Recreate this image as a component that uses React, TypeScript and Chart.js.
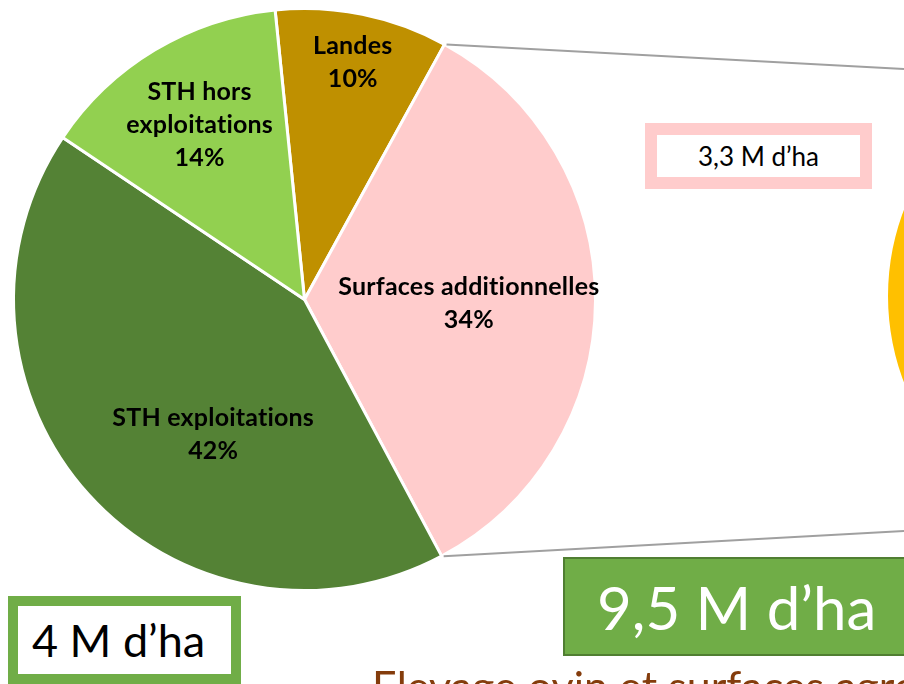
import React, { useEffect, useRef } from "react";
import { Chart, registerables } from "chart.js";

Chart.register(...registerables);

// ---- data ----
const categories = ["Landes", "Surfaces additionnelles", "STH exploitations", "STH hors exploitations"];
const labelLines = [["Landes"], ["Surfaces additionnelles"], ["STH exploitations"], ["STH hors", "exploitations"]];
const shares = [9.6, 34.2, 42.2, 14.0];
const sliceColors = ["#BF9000", "#FFCCCC", "#548235", "#92D050"];
const detailCategories = ["Surfaces additionnelles (détail)"];
const detailShares = [100];
const detailColors = ["#FFC000"];
const totalMainText = "4 M d\u2019ha";
const detailText = "3,3 M d\u2019ha";
const totalDetailText = "9,5 M d\u2019ha";
const titleText = "Elevage ovin et surfaces agropastorales";

// ---- placement (style) ----
const labelRadius = [0.833, 0.565, 0.559, 0.7];
const labelAngleShift = [0, 1, -13.7, 0];
const connectorSlice = 1;
const connectorTargets = [
  { x: 904, y: 69 },
  { x: 904, y: 531 },
];

const FONT = "Lato, 'Open Sans', sans-serif";

const labelPlugin = {
  id: "sliceLabels",
  afterDatasetsDraw(chart: any) {
    const ctx = chart.ctx;
    const meta = chart.getDatasetMeta(0);
    const data = chart.data.datasets[0].data as number[];
    const total = data.reduce((a, b) => a + b, 0);
    ctx.save();
    ctx.font = `bold 25px ${FONT}`;
    try {
      (ctx as any).letterSpacing = "0.2px";
    } catch (e) {}
    ctx.fillStyle = "#000000";
    ctx.textAlign = "center";
    ctx.textBaseline = "middle";
    const lineH = 33;
    meta.data.forEach((arc: any, i: number) => {
      const { x, y, startAngle, endAngle, outerRadius } = arc.getProps(
        ["x", "y", "startAngle", "endAngle", "outerRadius"],
        true
      );
      const mid = (startAngle + endAngle) / 2 + (labelAngleShift[i] * Math.PI) / 180;
      const r = outerRadius * labelRadius[i];
      const cx = x + r * Math.cos(mid);
      const cy = y + r * Math.sin(mid);
      const lines = [...labelLines[i], Math.round((data[i] / total) * 100) + "%"];
      lines.forEach((t, k) => {
        ctx.fillText(t, cx, cy + (k - (lines.length - 1) / 2) * lineH);
      });
    });
    ctx.restore();
  },
};

const connectorPlugin = {
  id: "connectors",
  afterDraw(chart: any) {
    const ctx = chart.ctx;
    const arc: any = chart.getDatasetMeta(0).data[connectorSlice];
    const { x, y, startAngle, endAngle, outerRadius } = arc.getProps(
      ["x", "y", "startAngle", "endAngle", "outerRadius"],
      true
    );
    const angles = [startAngle, endAngle];
    ctx.save();
    ctx.strokeStyle = "#A0A0A0";
    ctx.lineWidth = 2;
    angles.forEach((a, k) => {
      ctx.beginPath();
      ctx.moveTo(x + outerRadius * Math.cos(a) + 2, y + outerRadius * Math.sin(a));
      ctx.lineTo(connectorTargets[k].x, connectorTargets[k].y);
      ctx.stroke();
    });
    ctx.restore();
  },
};

export default function App() {
  const mainRef = useRef<HTMLCanvasElement>(null);
  const detailRef = useRef<HTMLCanvasElement>(null);

  useEffect(() => {
    const main = new Chart(mainRef.current!, {
      type: "pie",
      data: {
        labels: categories,
        datasets: [
          {
            data: shares,
            backgroundColor: sliceColors,
            borderColor: "#FFFFFF",
            borderWidth: 3,
          },
        ],
      },
      options: {
        responsive: false,
        animation: false,
        rotation: -5.8,
        layout: { padding: { left: 12, top: 7, right: 307, bottom: 92 } },
        plugins: { legend: { display: false }, tooltip: { enabled: false } },
      },
      plugins: [labelPlugin, connectorPlugin],
    });
    const detail = new Chart(detailRef.current!, {
      type: "pie",
      data: {
        labels: detailCategories,
        datasets: [{ data: detailShares, backgroundColor: detailColors, borderWidth: 0 }],
      },
      options: {
        responsive: false,
        animation: false,
        plugins: { legend: { display: false }, tooltip: { enabled: false } },
      },
    });
    return () => {
      main.destroy();
      detail.destroy();
    };
  }, []);

  return (
    <div
      style={{
        position: "fixed",
        left: 0,
        top: 0,
        width: 904,
        height: 684,
        overflow: "hidden",
        background: "#FFFFFF",
        fontFamily: FONT,
        fontVariantLigatures: "none",
      }}
    >
      <canvas
        ref={detailRef}
        width={484}
        height={484}
        style={{ position: "absolute", left: 888, top: 54, width: 484, height: 484 }}
      />
      <canvas
        ref={mainRef}
        width={904}
        height={684}
        style={{ position: "absolute", left: 0, top: 0, width: 904, height: 684 }}
      />
      <div
        style={{
          position: "absolute",
          left: 645,
          top: 123,
          width: 227,
          height: 66,
          boxSizing: "border-box",
          border: "12px solid #FFCCCC",
          background: "#FFFFFF",
          display: "flex",
          alignItems: "center",
          justifyContent: "center",
          fontSize: 26,
          color: "#000000",
          lineHeight: 1,
        }}
      >
        {detailText}
      </div>
      <div
        style={{
          position: "absolute",
          left: 563,
          top: 557,
          width: 420,
          height: 99,
          boxSizing: "border-box",
          border: "2px solid #507E32",
          background: "#70AD47",
          display: "flex",
          alignItems: "center",
          paddingLeft: 32,
          fontSize: 60,
          color: "#FFFFFF",
          lineHeight: 1,
          whiteSpace: "nowrap",
        }}
      >
        {totalDetailText}
      </div>
      <div
        style={{
          position: "absolute",
          left: 8,
          top: 596,
          width: 233,
          height: 88,
          boxSizing: "border-box",
          border: "10px solid #70AD47",
          background: "#FFFFFF",
          display: "flex",
          alignItems: "center",
          paddingLeft: 14,
          fontSize: 45,
          color: "#000000",
          lineHeight: 1,
          whiteSpace: "nowrap",
        }}
      >
        {totalMainText}
      </div>
      <div
        style={{
          position: "absolute",
          left: 372,
          top: 664,
          fontSize: 43,
          lineHeight: "43px",
          color: "#843C0C",
          whiteSpace: "nowrap",
        }}
      >
        {titleText}
      </div>
    </div>
  );
}
